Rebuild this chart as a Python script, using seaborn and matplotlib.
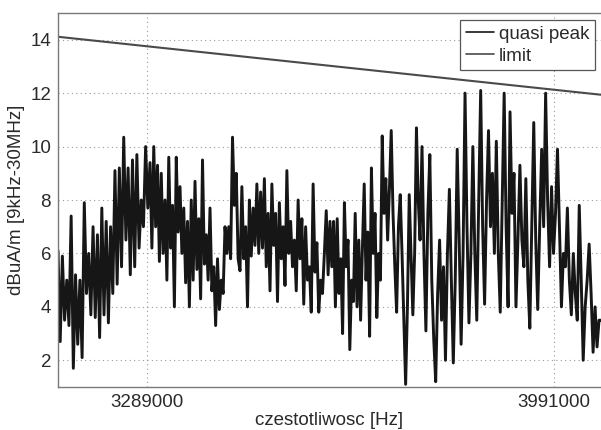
import numpy as np
import pandas as pd
import matplotlib
matplotlib.use('Agg')
import matplotlib.pyplot as plt
import seaborn as sns

# frequency edges of the hand-read segments [Hz]
seg_edges = [3135500, 3294200, 3449400, 3604600, 3759900, 3915100, 4072000]

# quasi peak values, segment by segment [dBuA/m]
seg1 = [6.1, 2.7, 5.9, 3.5, 5.0, 3.3, 7.4, 1.7, 5.2, 2.6, 5.0, 2.1, 7.9, 4.5, 6.0, 3.7,
        7.0, 3.6, 6.7, 2.85, 7.7, 3.7, 7.2, 3.4, 7.0, 4.5, 9.1, 4.85, 9.2, 5.5, 10.35, 6.5,
        9.2, 5.2, 9.5, 5.5, 9.7, 6.2, 8.0, 7.0, 10.0, 7.7]
seg2 = [9.4, 6.2, 10.0, 7.0, 9.3, 5.7, 9.0, 6.0, 8.0, 5.0, 9.6, 6.2, 7.8, 4.0, 9.6, 6.8,
        8.5, 6.0, 7.7, 4.9, 7.2, 4.0, 8.0, 5.0, 8.7, 5.4, 7.3, 4.3, 9.5, 5.6, 6.7, 5.0,
        7.7, 4.6, 5.5, 3.3, 5.8, 3.9, 5.0, 4.5, 7.0, 6.0, 7.0, 5.8, 10.35, 7.8, 9.0, 5.8]
seg3 = [5.35, 8.5, 5.8, 7.0, 4.0, 8.0, 5.9, 7.7, 6.3, 8.6, 6.0, 8.3, 6.2, 8.8, 5.5, 7.5,
        4.6, 8.6, 6.3, 7.5, 4.2, 7.9, 5.8, 7.0, 4.8, 9.1, 6.0, 7.2, 5.5, 6.5, 4.6, 8.0,
        5.8, 7.3, 4.1, 7.0, 5.0, 5.5, 3.8, 8.6, 5.3, 6.4, 3.8, 5.0, 4.5, 6.0, 7.6, 5.2]
seg4 = [7.2, 5.5, 7.2, 4.0, 7.3, 4.5, 5.8, 3.0, 7.9, 5.5, 6.5, 2.4, 5.0, 4.2, 7.5, 4.0,
        6.5, 3.5, 6.2, 8.6, 5.0, 6.8, 2.9, 9.2, 6.0, 7.5, 3.6, 6.0, 5.0, 10.4, 7.5, 8.8,
        6.5, 8.4, 10.6, 7.5, 5.5, 3.8, 7.0, 8.2, 6.0, 3.5, 1.1, 4.0, 8.2, 6.0, 3.7, 6.0,
        10.7, 8.0]
seg5 = [6.5, 10.0, 6.0, 3.1, 7.5, 9.7, 5.0, 2.8, 1.2, 4.5, 6.5, 3.5, 5.5, 2.0, 6.0, 8.4,
        5.0, 1.9, 5.0, 9.9, 6.5, 2.6, 6.0, 12.0, 7.0, 3.4, 6.0, 10.0, 6.0, 3.5, 8.0, 12.1,
        7.0, 4.1, 8.0, 10.6, 7.0, 9.0, 6.0, 10.2, 6.0, 3.8, 8.0, 12.0, 7.0, 4.0]
seg6 = [11.3, 7.5, 9.0, 4.0, 6.5, 9.3, 6.5, 5.5, 8.8, 5.0, 3.2, 7.0, 10.9, 6.5, 3.9, 7.0,
        9.9, 7.0, 12.0, 8.0, 5.5, 8.5, 6.0, 7.5, 9.9, 7.0, 4.0, 6.0, 5.5, 7.7, 5.0, 3.7,
        6.0, 4.5, 3.5, 7.8, 5.0, 2.0, 4.0, 5.0, 6.35, 4.5, 2.3, 4.0, 2.5, 3.5]
segments = [seg1, seg2, seg3, seg4, seg5, seg6]

# limit line end points
limit_freq = [3135500, 4072000]
limit_vals = [14.11, 11.94]

x_ticks = [3289000, 3991000]
y_ticks = [2, 4, 6, 8, 10, 12, 14]

freqs = []
vals = []
for i, seg in enumerate(segments):
    freqs.extend(np.linspace(seg_edges[i], seg_edges[i + 1], len(seg), endpoint=False))
    vals.extend(seg)
freqs.append(seg_edges[-1])
vals.append(segments[-1][-1])

qp = pd.DataFrame({'freq': freqs, 'value': vals, 'series': 'quasi peak'})
lim = pd.DataFrame({'freq': limit_freq, 'value': limit_vals, 'series': 'limit'})

sns.set_style('white')
plt.rcParams['font.family'] = ['Liberation Sans', 'DejaVu Sans']

fs = 13.5
txt = '#2a2a2a'

fig = plt.figure(figsize=(6.01, 4.30), dpi=100)
ax = fig.add_axes([58 / 601, 43 / 430, 543 / 601, 374 / 430])

sns.lineplot(data=qp, x='freq', y='value', color='#161616', linewidth=2.1,
             sort=False, estimator=None, label='quasi peak', ax=ax)
sns.lineplot(data=lim, x='freq', y='value', color='#4a4a4a', linewidth=1.5,
             sort=False, estimator=None, label='limit', ax=ax)

ax.set_xlim(limit_freq[0], limit_freq[1])
ax.set_ylim(1, 15)
ax.set_xticks(x_ticks)
ax.set_xticklabels([str(t) for t in x_ticks])
ax.set_yticks(y_ticks)

ax.grid(True, linestyle=(0, (1, 3)), color='#9a9a9a', linewidth=0.8)
ax.tick_params(direction='in', length=4, color='#7a7a7a', labelsize=fs,
               labelcolor=txt, pad=5)
for side in ['left', 'bottom', 'top']:
    ax.spines[side].set_color('#7a7a7a')
    ax.spines[side].set_linewidth(1.0)
ax.spines['right'].set_visible(False)

ax.set_xlabel('czestotliwosc [Hz]', fontsize=fs, color=txt, labelpad=1)
ax.set_ylabel('dBuA/m [9kHz-30MHz]', fontsize=fs, color=txt, labelpad=4)

leg = ax.legend(loc='upper right', bbox_to_anchor=(0.989, 0.981), borderaxespad=0,
                fontsize=fs, frameon=True, fancybox=False, framealpha=1,
                handlelength=1.5, handletextpad=0.25, borderpad=0.3, labelspacing=0.25)
leg.get_frame().set_edgecolor('#555555')
leg.get_frame().set_linewidth(0.9)
for line in leg.get_lines():
    line.set_linewidth(1.2)
for t in leg.get_texts():
    t.set_color(txt)

fig.savefig('out.png', dpi=100)
